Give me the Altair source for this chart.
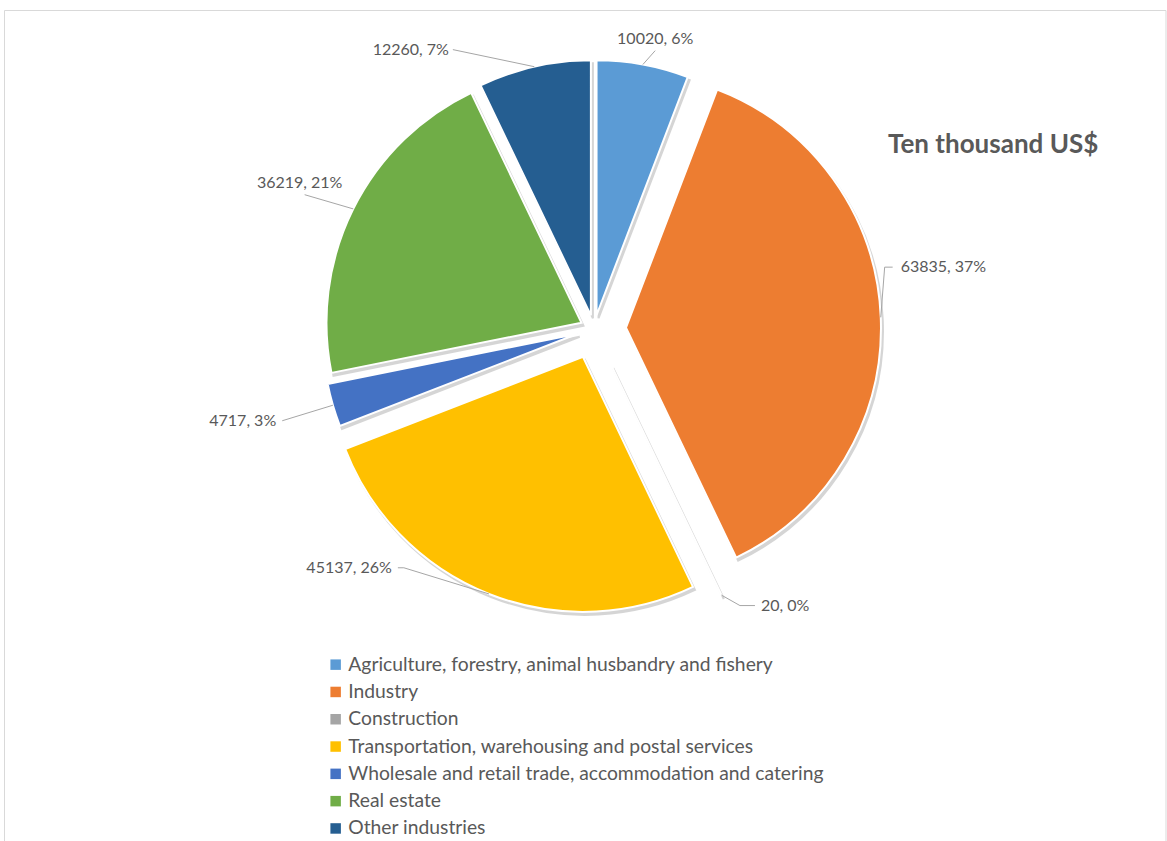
import altair as alt
import pandas as pd

# ---- data ----
categories = [
    "Agriculture, forestry, animal husbandry and fishery",
    "Industry",
    "Construction",
    "Transportation, warehousing and postal services",
    "Wholesale and retail trade, accommodation and catering",
    "Real estate",
    "Other industries",
]
values = [10020, 63835, 20, 45137, 4717, 36219, 12260]
title_text = "Ten thousand US$"

# ---- styles ----
colors = ["#5B9BD5", "#ED7D31", "#A5A5A5", "#FFC000", "#4472C4", "#70AD47", "#255E91"]
explode_px = [14, 32, 40, 30, 17, 14, 14]
label_angle_deg = [12.4, 78.3, 149.8, 219.4, 253.6, 294.9, 333.2]
label_radius_px = [285, 305, 320, 309, 325, 319, 313]
label_side = ["top", "right", "right", "left", "left", "top", "left"]
elbow_px = [0, -8, -15, 6, 0, 0, 0]
text_dx = [0, 8, 6, -6, -6, -5, -4]
text_dy = [-4, 0, 0, 0, 0, -4, 0]

CX, CY, R = 594, 329, 255
FONT = "Lato"
TXT = "#595959"

df = pd.DataFrame({
    "order": list(range(len(categories))),
    "category": categories,
    "value": values,
    "explode": explode_px,
    "la": label_angle_deg,
    "lr": label_radius_px,
    "side": label_side,
    "elbow": elbow_px,
    "tdx": text_dx,
    "tdy": text_dy,
})

base = (
    alt.Chart(df)
    .transform_joinaggregate(total="sum(value)")
    .transform_window(cum="sum(value)", sort=[alt.SortField("order")], frame=[None, 0])
    .transform_calculate(
        t0="(datum.cum - datum.value) / datum.total * 2 * PI",
        t1="datum.cum / datum.total * 2 * PI",
        mid="(datum.t0 + datum.t1) / 2",
        cx=f"{CX} + datum.explode * sin(datum.mid)",
        cy=f"{CY} - datum.explode * cos(datum.mid)",
        shx="datum.cx + 2",
        shy="datum.cy + 3",
        sx=f"datum.cx + {R} * sin(datum.mid)",
        sy=f"datum.cy - {R} * cos(datum.mid)",
        lar="datum.la * PI / 180",
        lx=f"{CX} + datum.lr * sin(datum.lar)",
        ly=f"{CY} - datum.lr * cos(datum.lar)",
        ex="datum.lx + datum.elbow",
        ey="datum.ly",
        tx="datum.lx + datum.tdx",
        ty="datum.ly + datum.tdy",
        label="format(datum.value, 'd') + ', ' + format(datum.value / datum.total, '.0%')",
    )
)

frame = alt.Chart(pd.DataFrame({"k": [0]})).mark_rect(
    fill="#ffffff", stroke="#d9d9d9", strokeWidth=1
).encode(x=alt.value(4.5), x2=alt.value(1166), y=alt.value(10.5), y2=alt.value(846))

shadow = base.mark_arc(
    outerRadius=R, color="#000000", opacity=0.16, stroke="#000000", strokeWidth=2
).encode(
    x=alt.X("shx:Q", scale=None),
    y=alt.Y("shy:Q", scale=None),
    theta=alt.Theta("t0:Q", scale=None),
    theta2="t1:Q",
)

arcs = base.mark_arc(outerRadius=R, stroke="#ffffff", strokeWidth=2).encode(
    x=alt.X("cx:Q", scale=None),
    y=alt.Y("cy:Q", scale=None),
    theta=alt.Theta("t0:Q", scale=None),
    theta2="t1:Q",
    color=alt.Color(
        "category:N",
        scale=alt.Scale(domain=categories, range=colors),
        sort=categories,
        legend=alt.Legend(
            title=None,
            orient="none",
            legendX=326,
            legendY=655,
            symbolType="square",
            symbolSize=110,
            symbolStrokeWidth=0,
            labelFont=FONT,
            labelFontSize=19.3,
            labelColor=TXT,
            labelLimit=700,
            labelOffset=3,
            rowPadding=7.3,
            padding=0,
        ),
    ),
)

lead1 = base.mark_rule(color="#a6a6a6", strokeWidth=1).encode(
    x=alt.X("sx:Q", scale=None), y=alt.Y("sy:Q", scale=None),
    x2="ex:Q", y2="ey:Q",
)
lead2 = base.mark_rule(color="#a6a6a6", strokeWidth=1).encode(
    x=alt.X("ex:Q", scale=None), y=alt.Y("ey:Q", scale=None),
    x2="lx:Q", y2="ly:Q",
)

def text_layer(side, align, baseline):
    return base.transform_filter(alt.datum.side == side).mark_text(
        align=align, baseline=baseline, font=FONT, fontSize=16, color=TXT
    ).encode(
        x=alt.X("tx:Q", scale=None), y=alt.Y("ty:Q", scale=None), text="label:N"
    )

t_top = text_layer("top", "center", "bottom")
t_right = text_layer("right", "left", "middle")
t_left = text_layer("left", "right", "middle")

title = alt.Chart(pd.DataFrame({"t": [title_text]})).mark_text(
    align="left", baseline="alphabetic", font=FONT, fontSize=26, fontWeight="bold", color=TXT
).encode(text="t:N", x=alt.value(888), y=alt.value(153))

chart = (
    alt.layer(frame, shadow, arcs, lead1, lead2, t_top, t_right, t_left, title)
    .properties(width=1167, height=841, autosize="none", padding=0)
    .configure_view(stroke=None)
)

chart.save("out.html", embed_options={"renderer": "svg", "actions": False})
